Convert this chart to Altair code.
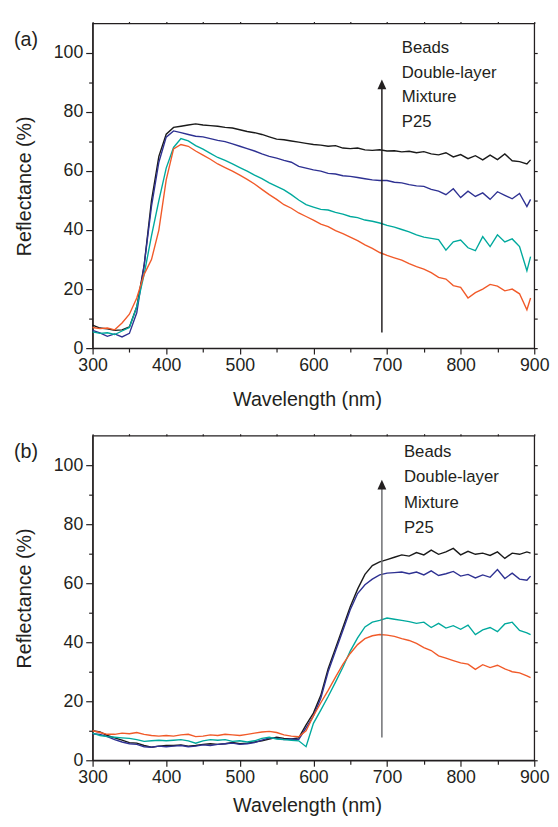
import altair as alt
import pandas as pd

# ---------------- data ----------------
WL = list(range(300, 900, 10)) + [895]

SERIES = ["Beads", "Double-layer", "Mixture", "P25"]
COLORS = ["#1a1a1a", "#2e3192", "#00a99d", "#f15a29"]

# Panel (a)
a_beads = [7.8, 6.8, 6.5, 6.0, 6.2, 7.2, 14, 28, 50, 65, 72.5, 74.8, 75.2, 75.6, 76.0, 75.6, 75.4, 75.2, 74.8, 74.6,
           74.0, 73.4, 73.0, 72.4, 71.6, 70.8, 70.6, 70.2, 69.8, 69.4, 69.0, 68.8, 68.4, 68.6, 67.8, 67.6, 67.8, 67.2,
           67.0, 67.2, 66.8, 66.9, 66.5, 66.7, 66.2, 66.6, 65.8, 65.5, 66.2, 64.8, 65.6, 64.2, 65.2, 63.8, 65.4, 63.9,
           65.8, 63.5, 63.2, 62.4, 63.8]
a_double = [6.0, 5.2, 4.0, 4.8, 3.8, 5.0, 12, 28, 48, 63, 71.5, 73.6, 73.0, 72.4, 71.8, 71.6, 71.0, 70.4, 70.0, 69.2,
            68.4, 67.6, 66.8, 65.8, 65.0, 64.4, 63.6, 63.0, 61.6, 61.0, 60.4, 60.0, 59.2, 59.0, 58.4, 58.2, 57.8, 57.4,
            57.0, 56.8, 56.8, 56.2, 56.0, 55.4, 55.0, 54.8, 53.8, 53.2, 52.0, 54.0, 51.0, 53.2, 51.4, 52.6, 50.4, 53.0,
            51.8, 50.6, 52.4, 48.0, 50.4]
a_mixture = [5.5, 5.0, 5.2, 4.6, 5.8, 7.0, 14, 25, 38, 50, 61, 68, 71.0, 70.2, 68.6, 67.4, 66.0, 64.6, 63.6, 62.4,
             61.2, 60.0, 58.6, 57.4, 56.0, 54.8, 53.6, 52.0, 50.2, 48.6, 47.8, 47.0, 46.8, 46.0, 45.4, 44.6, 44.2, 43.4,
             43.0, 42.4, 41.6, 41.0, 40.2, 39.4, 38.4, 37.6, 37.2, 36.8, 33.2, 36.0, 36.6, 34.0, 33.0, 37.8, 34.4, 38.4,
             36.0, 37.0, 34.4, 26.2, 31.0]
a_p25 = [7.0, 6.6, 6.8, 6.2, 8.5, 11.5, 17, 25, 30, 40, 57, 67.5, 69.0, 68.4, 66.8, 65.4, 64.0, 62.4, 61.2, 60.0,
         58.6, 57.2, 55.6, 53.8, 52.0, 50.4, 48.6, 47.4, 45.8, 44.6, 43.4, 42.0, 41.2, 39.8, 38.8, 37.6, 36.4, 35.0,
         33.8, 32.4, 31.4, 30.6, 29.8, 28.6, 27.6, 26.8, 25.6, 24.0, 23.4, 21.2, 20.6, 17.0, 18.8, 20.0, 21.6, 21.0,
         19.4, 20.0, 18.4, 13.0, 17.0]

# Panel (b)
b_beads = [10.0, 9.6, 8.4, 7.6, 6.8, 6.0, 5.8, 5.0, 4.4, 4.8, 5.0, 5.0, 5.2, 4.8, 5.0, 5.4, 5.6, 5.4, 5.6, 6.0,
           5.6, 5.8, 6.2, 6.6, 7.2, 7.8, 7.4, 7.2, 7.6, 12, 16, 22, 31, 38, 45, 52, 58, 63, 66, 67.2,
           68.0, 68.8, 69.6, 69.2, 70.4, 69.6, 71.2, 69.8, 70.6, 71.8, 69.6, 70.8, 69.8, 70.2, 69.4, 70.6,
           68.4, 70.2, 69.8, 70.6, 70.2]
b_double = [9.0, 8.8, 8.0, 7.0, 6.2, 5.6, 5.4, 4.6, 4.4, 4.8, 4.6, 4.8, 5.0, 4.6, 4.8, 5.2, 5.0, 5.4, 5.6, 5.8,
            5.4, 5.6, 6.0, 6.8, 7.6, 7.4, 7.0, 7.2, 7.0, 11, 15, 21, 30, 37, 44, 51, 56.5, 59.5, 61.4, 62.8,
            63.4, 63.6, 63.8, 63.2, 63.8, 62.8, 64.2, 62.6, 63.2, 64.0, 62.4, 63.0, 61.8, 62.8, 62.0, 64.6,
            61.6, 63.4, 61.4, 61.0, 62.4]
b_mixture = [9.2, 8.4, 8.0, 7.8, 7.6, 7.4, 7.0, 6.4, 6.6, 6.8, 6.6, 6.8, 7.0, 6.6, 5.8, 6.6, 7.0, 6.8, 7.0, 6.4,
             6.6, 6.2, 6.6, 7.4, 7.8, 7.2, 7.0, 6.8, 6.6, 4.6, 12.5, 17, 21.6, 26.5, 31.5, 37, 41.5, 45.2, 46.8, 47.4,
             48.2, 47.8, 47.4, 47.0, 46.4, 46.8, 45.0, 46.4, 44.8, 45.6, 44.4, 45.8, 42.6, 44.2, 45.0, 43.6,
             46.2, 46.8, 44.0, 43.2, 42.6]
b_p25 = [10.0, 9.4, 8.8, 8.8, 9.2, 9.0, 9.4, 8.8, 8.4, 8.2, 8.4, 8.2, 8.6, 8.8, 8.0, 8.2, 8.6, 8.4, 8.8, 8.6,
         8.4, 8.8, 9.2, 9.6, 9.8, 9.4, 8.6, 8.2, 8.0, 10, 15, 19.5, 23.7, 28.2, 32.5, 36.2, 39.2, 41.2, 42.2, 42.6,
         42.4, 42.0, 41.2, 40.6, 39.6, 38.2, 37.2, 35.4, 34.6, 33.8, 33.0, 32.6, 30.8, 32.4, 31.4, 32.2,
         31.0, 30.0, 29.6, 28.6, 28.0]

PANEL_LABELS = ["(a)", "(b)"]
LEGEND_LABELS = ["Beads", "Double-layer", "Mixture", "P25"]

# ---------------- style ----------------
FONT = "Liberation Sans"
TXT = "#231f20"
W, H = 449, 330
XS = alt.Scale(domain=[300, 900], nice=False, zero=False)
YS = alt.Scale(domain=[0, 110], nice=False, zero=False)


def panel(series_vals, label, title_y, arrow_x, arrow_y0, arrow_y1, head_y, rule_color, leg_x, leg_top, leg_step):
    rows = []
    for name, vals in zip(SERIES, series_vals):
        for w, v in zip(WL, vals):
            rows.append({"wl": w, "val": v, "series": name})
    df = pd.DataFrame(rows)

    x_axis = alt.Axis(values=list(range(300, 901, 50)), title="Wavelength (nm)",
                      labelExpr="datum.value % 100 === 0 ? datum.label : ''",
                      tickSize={"condition": {"test": "datum.value % 100 === 0", "value": 6}, "value": 4},
                      labelOverlap=False, labelFlush=False, titleX=218, titleY=title_y,
                      titleBaseline="middle", grid=False, minExtent=0)
    y_axis = alt.Axis(values=list(range(0, 101, 10)), title="Reflectance (%)",
                      labelExpr="datum.value % 20 === 0 ? datum.label : ''",
                      tickSize={"condition": {"test": "datum.value % 20 === 0", "value": 7}, "value": 4},
                      labelOverlap=False, labelFlush=False, titleX=-69, titleY=H / 2,
                      titleBaseline="middle", titleAngle=-90, grid=False)

    lines = alt.Chart(df).mark_line(strokeWidth=1.4).encode(
        x=alt.X("wl:Q", scale=XS, axis=x_axis),
        y=alt.Y("val:Q", scale=YS, axis=y_axis),
        color=alt.Color("series:N", scale=alt.Scale(domain=SERIES, range=COLORS), legend=None),
    )

    mirror = alt.Chart(df).mark_line(strokeOpacity=0).encode(
        x=alt.X("wl:Q", scale=XS, axis=alt.Axis(orient="top", values=list(range(300, 901, 50)), labels=False,
                                               domain=False, tickSize=2, title=None, grid=False,
                                               minExtent=0, maxExtent=2)),
        y=alt.Y("val:Q", scale=YS, axis=alt.Axis(orient="right", values=list(range(0, 101, 10)), labels=False,
                                                domain=False, tickSize=3, title=None, grid=False,
                                                minExtent=0, maxExtent=3)),
        detail="series:N",
    )

    arrow_df = pd.DataFrame({"x": [arrow_x], "y": [arrow_y0], "y2": [arrow_y1], "hy": [head_y]})
    rule = alt.Chart(arrow_df).mark_rule(color=rule_color, strokeWidth=1.5).encode(
        x=alt.X("x:Q", scale=XS, axis=None),
        y=alt.Y("y:Q", scale=YS, axis=None),
        y2="y2:Q",
    )
    head = alt.Chart(arrow_df).mark_point(shape="M0,-1L0.9,1L-0.9,1Z", filled=True, size=100,
                                          color=TXT, opacity=1).encode(
        x=alt.X("x:Q", scale=XS, axis=None),
        y=alt.Y("hy:Q", scale=YS, axis=None),
    )

    leg_df = pd.DataFrame({"t": LEGEND_LABELS,
                           "x": [leg_x] * len(LEGEND_LABELS),
                           "y": [leg_top - i * leg_step for i in range(len(LEGEND_LABELS))]})
    leg = alt.Chart(leg_df).mark_text(align="left", baseline="middle", fontSize=17, font=FONT,
                                      color=TXT).encode(
        x=alt.X("x:Q", scale=XS, axis=None),
        y=alt.Y("y:Q", scale=YS, axis=None),
        text="t:N",
    )

    lab = alt.Chart(pd.DataFrame({"t": [label]})).mark_text(align="left", baseline="middle", fontSize=20,
                                                          font=FONT, color=TXT).encode(
        x=alt.value(-80), y=alt.value(17), text="t:N")

    return alt.layer(lines, mirror, rule, head, leg, lab).resolve_axis(
        x="independent", y="independent").properties(width=W, height=H)


pa = panel([a_beads, a_double, a_mixture, a_p25], PANEL_LABELS[0], 52,
           693, 5.3, 88.5, 89.4, TXT, 720, 101.8, 8.45)
pb = panel([b_beads, b_double, b_mixture, b_p25], PANEL_LABELS[1], 46,
           693, 7.7, 92.3, 93.4, "#6d6e71", 723, 104.4, 8.6)

chart = alt.vconcat(pa, pb, spacing=22, background="white",
                    padding={"left": 5, "right": 0, "top": 5, "bottom": 0}).configure_view(
    stroke=TXT, strokeWidth=1.3
).configure_axis(
    labelFont=FONT, labelFontSize=18, labelColor=TXT, labelPadding=3,
    titleFont=FONT, titleFontSize=20, titleColor=TXT, titleFontWeight="normal",
    domainColor=TXT, domainWidth=1.3, tickColor=TXT, tickWidth=1.2,
)

chart.save("out.html", embed_options={"renderer": "svg", "actions": False})
